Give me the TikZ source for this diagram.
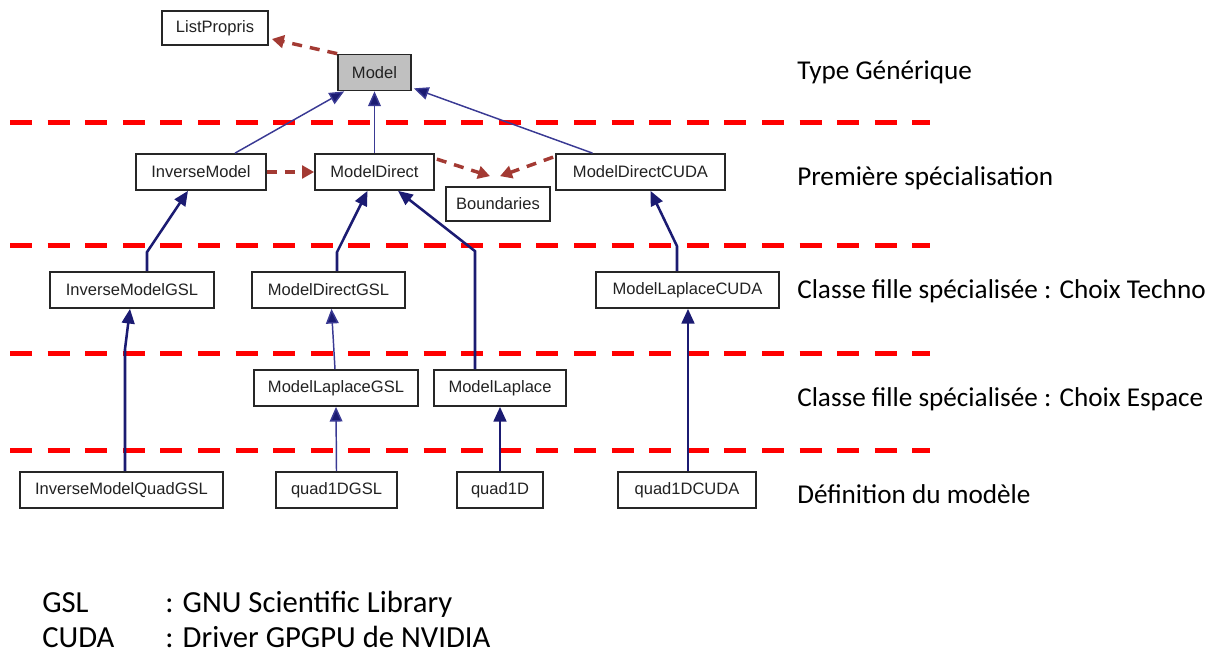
\documentclass[tikz,border=0pt]{standalone}
\usepackage{fontspec}
\setmainfont{Carlito}
\newfontfamily\nodefont{Liberation Sans}
\usetikzlibrary{arrows.meta,calc}
\definecolor{navyA}{HTML}{1B1B72}
\definecolor{navyB}{HTML}{3A3A94}
\definecolor{depcol}{HTML}{A33A33}
\definecolor{boxgray}{HTML}{C0C0C0}
\definecolor{txtgray}{HTML}{222222}
\tikzset{
  cls/.style={draw=black!85, line width=1.3pt, minimum height=27pt, inner sep=0pt,
    font=\nodefont\fontsize{12.4pt}{14pt}\selectfont, text=txtgray, fill=white},
  bw/.style={minimum width=#1*0.75pt},
  inhthin/.style={draw=navyB, line width=1.1pt, -{Triangle[length=11pt,width=9.5pt,fill=navyA]}},
  inhthick/.style={draw=navyA, line width=1.9pt, -{Triangle[length=11pt,width=9.5pt,fill=navyA]}},
  dep/.style={draw=depcol, line width=2.6pt, dash pattern=on 7.5pt off 6pt,
    -{Triangle[length=9pt,width=9.5pt,fill=depcol]}},
  sep/.style={draw=red, line width=3.75pt, dash pattern=on 16.5pt off 11.7pt},
  lvl/.style={anchor=west, font=\fontsize{20.4pt}{24pt}\selectfont, inner sep=0pt},
  leg/.style={anchor=base west, font=\fontsize{23pt}{27pt}\selectfont, inner sep=0pt},
}
\begin{document}
\begin{tikzpicture}[x=0.75pt,y=-0.75pt]
\useasboundingbox (0,0) rectangle (1215,653);

% separators
\coordinate (s1a) at (10,122); \coordinate (s1b) at (930,122);
\coordinate (s2a) at (10,245); \coordinate (s2b) at (930,245);
\coordinate (s3a) at (10,353); \coordinate (s3b) at (930,353);
\coordinate (s4a) at (10,450); \coordinate (s4b) at (930,450);
\draw[sep] (s1a) -- (s1b);
\draw[sep] (s2a) -- (s2b);
\draw[sep] (s3a) -- (s3b);
\draw[sep] (s4a) -- (s4b);

% nodes
\node[cls,bw=106,minimum height=25.5pt] (listp) at (215,28) {ListPropris};
\node[cls,bw=73,fill=boxgray] (model) at (374.5,72.5) {Model};
\node[cls,bw=130] (invm) at (201,172) {InverseModel};
\node[cls,bw=119] (md) at (374.5,172) {ModelDirect};
\node[cls,bw=104,minimum height=25.5pt] (bnd) at (498,204) {Boundaries};
\node[cls,bw=169] (mdcuda) at (640.5,172) {ModelDirectCUDA};
\node[cls,bw=164] (imgsl) at (132,290) {InverseModelGSL};
\node[cls,bw=153] (mdgsl) at (328.5,290) {ModelDirectGSL};
\node[cls,bw=183] (mlcuda) at (687.5,290) {ModelLaplaceCUDA};
\node[cls,bw=164] (mlgsl) at (336,388) {ModelLaplaceGSL};
\node[cls,bw=132] (ml) at (500,388) {ModelLaplace};
\node[cls,bw=203] (imq) at (121.5,490) {InverseModelQuadGSL};
\node[cls,bw=121] (q1gsl) at (336.5,490) {quad1DGSL};
\node[cls,bw=86] (q1) at (500,490) {quad1D};
\node[cls,bw=138] (q1cuda) at (687,490) {quad1DCUDA};

% dependency arrows
\draw[dep] (model.north west) -- ($(listp.east)+(3,11)$);
\draw[dep] (invm.east) -- (md.west);
\draw[dep] ($(md.north east)+(2,6)$) -- ($(bnd.north)+(-8,-10)$);
\draw[dep] ($(mdcuda.north west)+(-2,4)$) -- ($(bnd.north)+(2,-10)$);

% inheritance
\draw[inhthin] ($(invm.north)+(34,0)$) -- ($(model.south west)+(7,0)$);
\draw[inhthin] (md.north) -- (model.south);
\draw[inhthin] ($(mdcuda.north)+(-48,0)$) -- ($(model.south east)+(2,-3)$);

\draw[inhthick] ($(imgsl.north)+(15,0)$) -- ++(0,-19) -- ($(invm.south)+(-13,0)$);
\draw[inhthick] ($(mdgsl.north)+(8.5,0)$) -- ++(0,-19) -- ($(md.south)+(-7,0)$);
\draw[inhthick] ($(ml.north)+(-25,0)$) -- ++(0,-118) -- ($(md.south)+(23.5,0)$);
\draw[inhthick] ($(mlcuda.north)+(-10.5,0)$) -- ++(0,-25) -- ($(mdcuda.south)+(10,0)$);
\draw[inhthick] ($(imq.north)+(3.5,0)$) -- ++(0,-122) -- ($(imgsl.south)+(-2,0)$);
\draw[inhthin] ($(mlgsl.north)+(-1,0)$) -- ($(mdgsl.south)+(3,0)$);
\draw[inhthin] (q1gsl.north) -- (mlgsl.south);
\draw[inhthick] (q1.north) -- (ml.south);
\draw[inhthick] ($(q1cuda.north)+(1,0)$) -- ($(mlcuda.south)+(0.5,0)$);

% level labels
\node[lvl] (l1) at (797,72) {Type Générique};
\node[lvl] (l2) at (797,178) {Première spécialisation};
\node[lvl] (l3) at (797,291) {Classe fille spécialisée : Choix Techno};
\node[lvl] (l4) at (797,399) {Classe fille spécialisée : Choix Espace};
\node[lvl] (l5) at (797,494) {Définition du modèle};

% legend
\node[leg] (g1) at (42,612) {GSL};
\node[leg] (g2) at (165,612) {: GNU Scientific Library};
\node[leg] (c1) at (42,647) {CUDA};
\node[leg] (c2) at (165,647) {: Driver GPGPU de NVIDIA};
\end{tikzpicture}
\end{document}
